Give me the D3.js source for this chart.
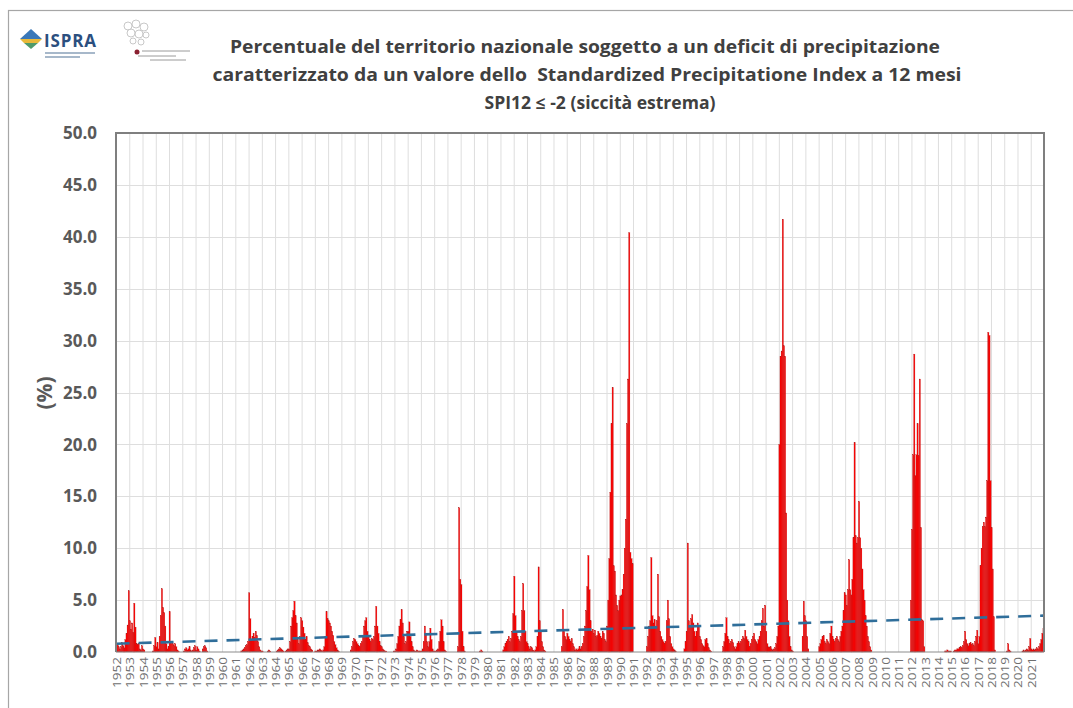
<!DOCTYPE html>
<html>
<head>
<meta charset="utf-8">
<script src="https://cdn.jsdelivr.net/npm/d3@7/dist/d3.min.js"></script>
<style>
  body { margin: 0; background: #fff; }
  svg text { font-family: "Open Sans", "DejaVu Sans", sans-serif; }
</style>
</head>
<body>
<div class="chart"></div>
<script>
// years on the x axis (one label per year, 12 monthly bars each)
const years = [
  1952, 1953, 1954, 1955, 1956, 1957, 1958, 1959, 1960, 1961,
  1962, 1963, 1964, 1965, 1966, 1967, 1968, 1969, 1970, 1971,
  1972, 1973, 1974, 1975, 1976, 1977, 1978, 1979, 1980, 1981,
  1982, 1983, 1984, 1985, 1986, 1987, 1988, 1989, 1990, 1991,
  1992, 1993, 1994, 1995, 1996, 1997, 1998, 1999, 2000, 2001,
  2002, 2003, 2004, 2005, 2006, 2007, 2008, 2009, 2010, 2011,
  2012, 2013, 2014, 2015, 2016, 2017, 2018, 2019, 2020, 2021
];

// % of national territory with SPI12 <= -2, Jan..Dec for each year above
const monthly = [
  [0.6,0.8,0.5,0.3,0.5,0.9,0.6,0.4,1.2,1.8,2.6,5.9],   // 1952
  [3.0,2.2,2.8,1.9,4.7,2.4,0.8,0.7,0.8,0.3,0.2,0.6],
  [0.3,0.2,0,0,0,0,0,0,0,0.1,0.6,1.4],
  [0.5,0.9,0.3,1.5,3.5,6.1,4.3,3.8,2.5,0.8,0.3,0.5],
  [3.9,0.8,0.9,0.8,0.6,0.8,0.5,0.2,0.1,0,0,0],
  [0,0.1,0.3,0.4,0.2,0.3,0.5,0.2,0.1,0.2,0.4,0.6],
  [0.2,0.5,0.3,0.1,0,0,0.3,0.5,0.6,0.4,0.1,0],
  [0,0,0,0,0,0,0,0,0,0,0,0],
  [0,0,0,0,0,0,0,0,0,0,0,0],
  [0,0,0,0,0,0.1,0.2,0.3,0.4,0.6,0.7,1.0],
  [5.7,3.2,1.2,1.5,1.8,1.4,2.0,1.6,1.0,0.5,0.2,0.1],   // 1962
  [0.1,0,0,0,0,0.1,0.2,0.1,0,0,0,0],
  [0,0.1,0.2,0.3,0.4,0.3,0.2,0.1,0,0.1,0.2,0.3],
  [0.3,1.0,2.5,3.3,4.0,4.9,3.5,2.8,1.2,0.8,1.5,3.3],
  [3.0,2.4,1.8,1.2,1.5,0.9,0.6,0.5,0.3,0.2,0,0],
  [0.1,0.1,0.2,0.2,0.3,0.2,0.1,0.2,0.5,1.5,3.9,3.2],
  [3.0,2.8,2.5,2.0,1.6,1.0,0.7,0.4,0.2,0.1,0,0],
  [0,0,0,0,0,0,0,0,0.2,0.5,1.0,1.3],
  [1.2,1.0,0.8,0.6,0.5,0.8,1.0,1.5,2.5,3.0,3.3,2.0],
  [1.5,1.2,1.0,1.3,1.2,1.5,2.5,4.4,2.5,1.8,1.0,0.6],
  [0.5,0.3,0.2,0.1,0.1,0,0,0,0,0,0,0.1],              // 1972
  [0.1,0.3,0.8,1.5,2.5,3.1,4.1,2.8,1.5,0.8,1.0,2.0],
  [2.0,2.9,1.5,1.0,0.5,0.2,0.1,0.1,0.2,0.1,0.1,0.1],
  [0.1,0.3,1.0,2.5,1.8,1.0,0.5,1.0,2.3,1.2,0.3,0.1],
  [0.1,0.1,0.2,0.3,1.0,2.0,3.1,2.5,1.0,0.2,0.1,0],
  [0,0,0,0,0,0,0,0,0,0.5,13.9,7.0],
  [6.5,2.0,0.5,0.1,0,0,0,0,0,0,0,0],
  [0,0,0,0,0,0.1,0.2,0.1,0,0,0,0],
  [0,0,0,0,0,0,0,0,0,0,0,0],
  [0,0,0.2,0.5,0.8,1.0,1.2,1.5,1.0,1.3,2.0,3.7],
  [7.3,3.5,2.0,1.5,1.2,1.0,1.5,4.0,6.6,4.0,2.0,1.0],   // 1982
  [0.8,0.5,0.3,0.5,0.4,0.2,0.1,0.2,0.5,1.5,8.2,3.0],
  [2.0,1.0,0.5,0.2,0.1,0,0,0,0,0,0,0],
  [0,0,0,0,0,0,0,0.5,4.1,2.0,1.5,1.2],
  [1.8,1.5,1.2,1.0,1.3,0.8,0.5,0.2,0.3,0.2,0.3,0.5],
  [0.3,0.5,0.8,1.5,2.5,4.0,6.3,9.3,6.0,3.0,2.0,2.2],
  [1.8,2.1,1.5,1.6,2.0,1.8,1.5,1.3,2.0,1.8,1.2,1.0],
  [2.5,5.0,9.0,15.4,22.0,25.5,8.3,7.8,5.5,4.5,4.0,5.0],
  [5.4,5.5,6.0,7.5,10.0,12.8,22.0,26.3,40.4,9.6,9.0,8.5],
  [0,0,0,0,0,0,0,0,0,0,0,0],
  [0.5,1.5,2.5,3.0,9.1,3.5,2.8,3.1,2.5,3.0,7.5,3.4],   // 1992
  [2.0,1.5,1.2,1.0,0.8,1.0,3.0,5.0,3.2,1.5,0.8,0.5],
  [0.3,0.2,0.1,0,0,0,0,0,0,0,0.3,1.0],
  [2.0,10.5,3.0,2.5,3.2,3.6,2.8,2.0,1.5,2.0,2.8,2.5],
  [1.5,1.2,0.8,0.6,0.5,1.2,1.3,0.8,0.4,0.2,0.1,0],
  [0,0,0,0,0,0,0,0,0,0.5,1.0,1.8],
  [3.3,1.5,1.2,0.8,1.0,1.2,0.9,0.5,0.3,0.5,0.8,1.0],
  [0.8,1.0,1.2,1.5,1.3,2.1,1.5,1.2,1.0,0.5,0.8,1.2],
  [1.5,1.8,1.2,1.0,0.8,1.2,1.5,2.0,3.0,4.2,2.5,4.5],
  [2.0,0.8,0.5,0.4,0.5,0.3,0.2,0.3,0.4,0.8,1.5,2.5],
  [20.0,28.5,29.0,41.7,29.5,28.5,13.4,5.0,3.0,1.5,0.5,0.2], // 2002
  [0.1,0,0,0,0,0,0,0,0,1.5,4.9,3.5],
  [3.0,1.5,0.3,0,0,0,0,0,0,0,0,0],
  [0.5,0.8,1.2,1.5,1.6,1.0,0.8,1.2,1.0,0.8,1.8,2.5],
  [1.5,1.2,1.0,1.3,1.5,1.2,1.0,1.5,2.0,2.5,4.0,5.7],
  [5.5,4.5,6.0,8.9,6.0,5.5,7.0,11.0,20.2,11.2,10.5,11.0],
  [14.5,11.0,10.0,8.0,6.0,5.0,3.5,2.5,1.5,1.0,0.5,0.2],
  [0,0,0,0,0,0,0,0,0,0,0,0],
  [0,0,0,0,0,0,0,0,0,0,0,0],
  [0,0,0,0,0,0,0,0,0,0,0,5.0],
  [11.8,19.0,28.7,17.0,19.0,22.0,18.9,26.3,12.0,3.1,3.0,0.5], // 2012
  [0,0,0,0,0,0,0,0,0,0,0,0],
  [0,0,0,0,0,0,0.1,0.1,0.2,0.1,0.1,0.1],
  [0,0,0.1,0.2,0.2,0.3,0.3,0.4,0.5,0.4,0.6,1.0],
  [2.0,1.2,0.8,0.6,0.8,0.9,0.7,0.8,0.6,1.0,1.5,2.1],
  [0.8,1.5,8.3,10.0,12.1,12.5,12.1,13.0,16.5,30.8,30.5,16.5],
  [12.0,8.0,3.4,0.2,0,0,0,0,0,0,0,0],
  [0,0,0.1,0.8,0.2,0.1,0,0,0,0,0,0],
  [0,0,0,0,0.1,0.2,0.1,0.2,0.3,0.2,0.5,1.3],
  [0.3,0.2,0.3,0.2,0.3,0.4,0.3,0.5,0.8,1.2,1.8,2.3]    // 2021
];

const yTicks = [0, 5, 10, 15, 20, 25, 30, 35, 40, 45, 50];
// linear trend: value at first and last month
const trend = [0.8, 3.5];

const titleLines = [
  "Percentuale del territorio nazionale soggetto a un deficit di precipitazione",
  "caratterizzato da un valore dello  Standardized Precipitatione Index a 12 mesi",
  "SPI12 \u2264 -2 (siccit\u00e0 estrema)"
];

const width = 1073, height = 708;
const margin = { top: 133, right: 29, bottom: 56, left: 116 };

const points = [];
monthly.forEach((row, yi) => row.forEach((v, m) => points.push({ i: yi * 12 + m, year: years[yi], v: v })));

const svg = d3.select(".chart").append("svg")
  .attr("width", width)
  .attr("height", height);

// outer frame
svg.append("rect")
  .attr("x", 8.5).attr("y", 10.5)
  .attr("width", width + 20).attr("height", height + 20)
  .attr("fill", "none").attr("stroke", "#a6a6a6").attr("stroke-width", 1.2);

const x = d3.scaleBand()
  .domain(points.map(d => d.i))
  .range([margin.left, width - margin.right])
  .padding(0);

const xYear = d3.scaleBand()
  .domain(years)
  .range([margin.left, width - margin.right])
  .padding(0);

const y = d3.scaleLinear()
  .domain([0, 50])
  .range([height - margin.bottom, margin.top]);

// gridlines
svg.append("g")
  .selectAll("line")
  .data(years.slice(1))
  .enter()
  .append("line")
  .attr("x1", d => xYear(d) + 0.5).attr("x2", d => xYear(d) + 0.5)
  .attr("y1", y(50)).attr("y2", y(0))
  .attr("stroke", "#dedede");

svg.append("g")
  .selectAll("line")
  .data(yTicks.slice(1, -1))
  .enter()
  .append("line")
  .attr("x1", margin.left).attr("x2", width - margin.right)
  .attr("y1", d => Math.round(y(d)) + 0.5).attr("y2", d => Math.round(y(d)) + 0.5)
  .attr("stroke", "#dedede");

// bars
svg.append("g")
  .selectAll("rect")
  .data(points.filter(d => d.v > 0))
  .enter()
  .append("rect")
  .attr("x", d => x(d.i))
  .attr("width", x.bandwidth() + 0.2)
  .attr("y", d => y(d.v))
  .attr("height", d => y(0) - y(d.v))
  .attr("fill", "#ff0000")
  .attr("stroke", "#a82020")
  .attr("stroke-width", 0.25);

// trend line
svg.append("line")
  .attr("x1", x(0) + x.bandwidth() / 2)
  .attr("x2", x(points.length - 1) + x.bandwidth() / 2)
  .attr("y1", y(trend[0]))
  .attr("y2", y(trend[1]))
  .attr("stroke", "#2f6e9a")
  .attr("stroke-width", 2.6)
  .attr("stroke-dasharray", "13,9");

// plot frame
svg.append("line")
  .attr("x1", margin.left).attr("x2", width - margin.right)
  .attr("y1", y(0)).attr("y2", y(0))
  .attr("stroke", "#8c8c8c").attr("stroke-width", 1);
svg.append("path")
  .attr("d", `M${margin.left},${y(0)}V${y(50)}H${width - margin.right}V${y(0)}`)
  .attr("fill", "none")
  .attr("stroke", "#7f7f7f")
  .attr("stroke-width", 2);

// y axis labels
svg.append("g")
  .selectAll("text")
  .data(yTicks)
  .enter()
  .append("text")
  .attr("x", 97)
  .attr("y", d => y(d))
  .attr("dy", "0.36em")
  .attr("text-anchor", "end")
  .attr("font-size", 17)
  .attr("font-weight", "bold")
  .attr("fill", "#595959")
  .text(d3.format(".1f"));

svg.append("text")
  .attr("transform", "translate(52,393) rotate(-90)")
  .attr("text-anchor", "middle")
  .attr("font-size", 21)
  .attr("font-weight", "bold")
  .attr("fill", "#595959")
  .text("(%)");

// year labels
svg.append("g")
  .selectAll("text")
  .data(years)
  .enter()
  .append("text")
  .attr("transform", d => `translate(${xYear(d) + 5},${y(0) + 5}) rotate(-90)`)
  .attr("text-anchor", "end")
  .attr("font-size", 10)
  .attr("fill", "#6e6e6e")
  .attr("textLength", 31)
  .attr("lengthAdjust", "spacingAndGlyphs")
  .text(d => d);

// title
const titleX = [585, 587, 600];
const titleW = [710, 749, 231];
svg.append("g")
  .selectAll("text")
  .data(titleLines)
  .enter()
  .append("text")
  .attr("x", (d, i) => titleX[i])
  .attr("y", (d, i) => 53 + i * 28)
  .attr("text-anchor", "middle")
  .attr("font-size", 17)
  .attr("font-weight", "bold")
  .attr("fill", "#404040")
  .attr("textLength", (d, i) => titleW[i])
  .attr("lengthAdjust", "spacingAndGlyphs")
  .style("white-space", "pre")
  .text(d => d);

// ISPRA logo
const logo = svg.append("g");
logo.append("path").attr("d", "M20,39 L31,29 L42,39 Z").attr("fill", "#3a78b8");
logo.append("path").attr("d", "M20,39 L42,39 L38,43 L24,43 Z").attr("fill", "#e8b93a");
logo.append("path").attr("d", "M24,43 L38,43 L31,49 Z").attr("fill", "#4f9a6a");
logo.append("text")
  .attr("x", 44).attr("y", 47)
  .attr("font-size", 17).attr("font-weight", "bold")
  .attr("fill", "#2b4f7f")
  .attr("textLength", 52)
  .text("ISPRA");
[53, 57].forEach((ly, k) => {
  logo.append("line")
    .attr("x1", 45).attr("x2", k ? 80 : 95)
    .attr("y1", ly).attr("y2", ly)
    .attr("stroke", "#8aa0b8").attr("stroke-width", 1.4);
});

// second logo (faint network drawing)
const logo2 = svg.append("g").attr("fill", "none").attr("stroke", "#c8c8c8");
[[128, 26, 4], [136, 24, 4], [144, 27, 4], [131, 33, 4], [139, 34, 4], [146, 35, 3], [133, 41, 3], [141, 42, 3]]
  .forEach(c => logo2.append("circle").attr("cx", c[0]).attr("cy", c[1]).attr("r", c[2]));
svg.append("circle").attr("cx", 137).attr("cy", 52).attr("r", 2.5).attr("fill", "#8a2030");
[[142, 51, 190], [138, 56, 176], [150, 60, 186]].forEach(l => {
  svg.append("line")
    .attr("x1", l[0]).attr("x2", l[2]).attr("y1", l[1]).attr("y2", l[1])
    .attr("stroke", "#9a9a9a").attr("stroke-width", 1);
});
</script>
</body>
</html>
